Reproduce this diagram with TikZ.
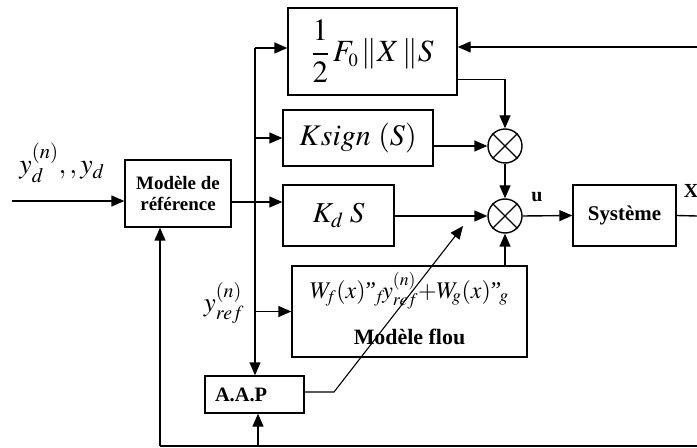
\documentclass[tikz,border=0pt]{standalone}
\usepackage{mathptmx}
\usepackage{fontspec}
\setmainfont{Liberation Serif}
\usetikzlibrary{arrows.meta}
\tikzset{
  box/.style={draw,inner sep=0pt},
  sumnode/.style={draw,circle,minimum size=34bp,inner sep=0pt},
  arr/.style={-{Triangle[length=13bp,width=11bp]}},
  lbl/.style={font=\fontsize{20}{24}\selectfont\bfseries}
}
\begin{document}
\begin{tikzpicture}[x=1bp,y=-1bp,line width=1.4bp]
\useasboundingbox (0,0) rectangle (697,448);
\node[box,minimum width=106bp,minimum height=67bp,align=center,font=\fontsize{19}{21}\selectfont\bfseries] (ref) at (178,193.5) {Modèle de\\référence};
\node[box,minimum width=169bp,minimum height=87bp,font=\fontsize{31}{34}\selectfont] (gain) at (372.5,51.5) {$\displaystyle\frac{1}{2}\,F_{\scriptscriptstyle 0}\,\|X\,\|S$};
\node[box,minimum width=150bp,minimum height=56bp,font=\fontsize{30}{32}\selectfont] (ksign) at (358,138) {$Ksign~(S)$};
\node[box,minimum width=111bp,minimum height=61bp,font=\fontsize{29}{32}\selectfont] (kd) at (338.5,215.5) {$K_{d}\;S$};
\node[box,minimum width=235bp,minimum height=91bp] (flou) at (409.5,311.5) {};
\node[font=\fontsize{24}{28}\selectfont] (fform) at (409.5,291) {$W_{\!f}(x)\!\mbox{\itshape "}_{\!f}\!y_{ref}^{(n)}{+}W_{\!g}(x)\!\mbox{\itshape "}_{\!g}$};
\node[font=\fontsize{22}{24}\selectfont\bfseries] (fname) at (409.5,337) {Modèle flou};
\node[box,minimum width=99bp,minimum height=37bp,text width=79bp,align=left,font=\fontsize{20.5}{24}\selectfont\bfseries] (aap) at (254.5,394.5) {A.A.P};
\node[box,minimum width=103bp,minimum height=61bp,font=\fontsize{21}{24}\selectfont\bfseries] (sys) at (624.5,215.5) {Système};
\node[sumnode] (s1) at (505,146) {};
\node[sumnode] (s2) at (505,216) {};
\foreach \s in {s1,s2}
  \draw[line width=1.1bp] (\s.north east) -- (\s.south west) (\s.north west) -- (\s.south east);
\node[font=\fontsize{28}{30}\selectfont] (yd) at (62,163) {$y_d^{(n)},,y_d$};
\node[font=\fontsize{27}{30}\selectfont] (yref) at (224,303) {$y_{ref}^{(n)}$};
\node[lbl] (u) at (537,197) {u};
\node[lbl] (xl) at (691,191) {X};
\coordinate (in) at (12,201);
\coordinate (refout) at (231,202);
\coordinate (busTop) at (255,48);
\coordinate (fbR) at (697,47);
\coordinate (out) at (697,216);
\coordinate (botL) at (160,446);
\coordinate (botR) at (697,446);
\coordinate (botA) at (258,446);
\coordinate (bend) at (334,392);
\coordinate (tip) at (463,226);
\draw[arr] (in) -- (in -| ref.west);
\draw[arr] (refout) -- (refout -| kd.west);
\draw[arr] (busTop) -- (busTop -| gain.west);
\draw[arr] (busTop) -- (busTop |- aap.north);
\draw[arr] (busTop |- ksign.west) -- (ksign.west);
\draw[arr] (busTop |- flou.west) -- (flou.west);
\draw[arr] ([yshift=16bp]gain.south east) -| (s1.north);
\draw[arr] (ksign.east |- s1.west) -- (s1.west);
\draw[arr] (s1.south) -- (s2.north);
\draw[arr] (kd.east |- s2.west) -- (s2.west);
\draw[arr] (flou.north -| s2.south) -- (s2.south);
\draw[arr] (s2.east) -- (sys.west);
\draw (sys.east) -- (out);
\draw[arr] (fbR) -- (fbR -| gain.east);
\draw (botL) -- (botR);
\draw[arr] (botL) -- (botL |- ref.south);
\draw[arr] (botA) -- (botA |- aap.south);
\draw[arr,line width=1.1bp] (aap.east |- bend) -- (bend) -- (tip);
\end{tikzpicture}
\end{document}
